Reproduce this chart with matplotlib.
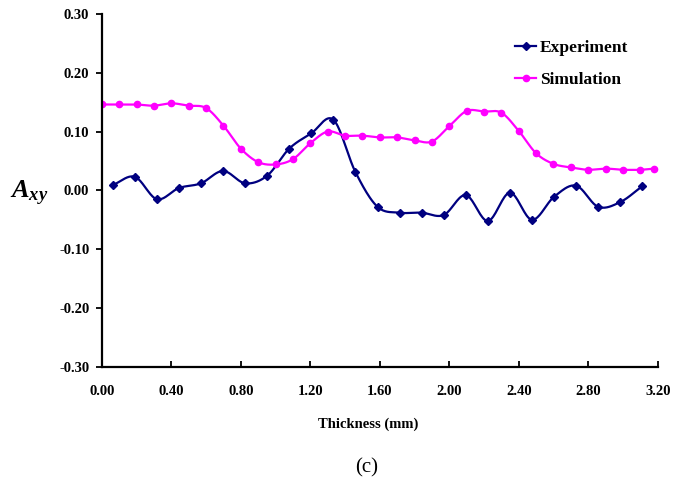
import numpy as np
import matplotlib
matplotlib.use('Agg')
import matplotlib.pyplot as plt
from matplotlib.ticker import FormatStrFormatter

# experiment (25 points) and simulation (33 points)
exp_x = [0.063, 0.190, 0.317, 0.444, 0.571, 0.698, 0.825, 0.952, 1.079, 1.206,
         1.333, 1.460, 1.587, 1.714, 1.841, 1.968, 2.095, 2.222, 2.349, 2.476,
         2.603, 2.730, 2.857, 2.984, 3.111]
exp_y = [0.009, 0.023, -0.015, 0.004, 0.012, 0.033, 0.012, 0.025, 0.071, 0.097,
         0.120, 0.031, -0.028, -0.038, -0.038, -0.042, -0.008, -0.052, -0.004, -0.050,
         -0.011, 0.008, -0.028, -0.020, 0.007]

sim_x = [0.0, 0.1, 0.2, 0.3, 0.4, 0.5, 0.6, 0.7, 0.8, 0.9, 1.0, 1.1, 1.2, 1.3, 1.4,
         1.5, 1.6, 1.7, 1.8, 1.9, 2.0, 2.1, 2.2, 2.3, 2.4, 2.5, 2.6, 2.7, 2.8, 2.9,
         3.0, 3.1, 3.18]
sim_y = [0.146, 0.146, 0.146, 0.144, 0.148, 0.144, 0.140, 0.110, 0.071, 0.048,
         0.044, 0.053, 0.080, 0.100, 0.093, 0.093, 0.090, 0.090, 0.085, 0.083,
         0.109, 0.135, 0.134, 0.132, 0.101, 0.063, 0.045, 0.039, 0.035, 0.037,
         0.035, 0.035, 0.037]

x_ticks = [0.0, 0.4, 0.8, 1.2, 1.6, 2.0, 2.4, 2.8, 3.2]
y_ticks = [-0.3, -0.2, -0.1, 0.0, 0.1, 0.2, 0.3]

EXP_COLOR = '#000080'
SIM_COLOR = '#FF00FF'


def smooth(xs, ys, n=20):
    # Catmull-Rom curve through the points, like Excel's smoothed line
    xs = np.asarray(xs, float)
    ys = np.asarray(ys, float)
    px = np.concatenate([[2 * xs[0] - xs[1]], xs, [2 * xs[-1] - xs[-2]]])
    py = np.concatenate([[2 * ys[0] - ys[1]], ys, [2 * ys[-1] - ys[-2]]])
    t = np.linspace(0, 1, n, endpoint=False)
    out_x, out_y = [], []
    for i in range(1, len(px) - 2):
        for p, out in ((px, out_x), (py, out_y)):
            p0, p1, p2, p3 = p[i - 1], p[i], p[i + 1], p[i + 2]
            out.extend(0.5 * (2 * p1 + (-p0 + p2) * t
                              + (2 * p0 - 5 * p1 + 4 * p2 - p3) * t ** 2
                              + (-p0 + 3 * p1 - 3 * p2 + p3) * t ** 3))
    out_x.append(xs[-1])
    out_y.append(ys[-1])
    return out_x, out_y


plt.rcParams['font.family'] = ['Liberation Serif', 'DejaVu Serif']
plt.rcParams['font.weight'] = 'bold'
plt.rcParams['axes.unicode_minus'] = False
plt.rcParams['mathtext.fontset'] = 'custom'
plt.rcParams['mathtext.it'] = 'Liberation Serif:italic:bold'
plt.rcParams['mathtext.rm'] = 'Liberation Serif:bold'

fig = plt.figure(figsize=(6.88, 4.97), dpi=100)
ax = fig.add_axes([0.148, 0.262, 0.808, 0.710])

sx, sy = smooth(exp_x, exp_y)
ax.plot(sx, sy, color=EXP_COLOR, lw=1.6)
ax.plot(exp_x, exp_y, 'D', color=EXP_COLOR, ms=4)
ax.plot([], [], '-D', color=EXP_COLOR, lw=1.6, ms=4, label='Experiment')

sx, sy = smooth(sim_x, sim_y)
ax.plot(sx, sy, color=SIM_COLOR, lw=1.6)
ax.plot(sim_x, sim_y, 'o', color=SIM_COLOR, ms=4.5)
ax.plot([], [], '-o', color=SIM_COLOR, lw=1.6, ms=4.5, label='Simulation')

ax.set_xlim(0, 3.2)
ax.set_ylim(-0.3, 0.3)
ax.set_xticks(x_ticks)
ax.set_yticks(y_ticks)
ax.xaxis.set_major_formatter(FormatStrFormatter('%.2f'))
ax.yaxis.set_major_formatter(FormatStrFormatter('%.2f'))
ax.tick_params(axis='x', direction='in', length=4, width=1.3, labelsize=10.5, pad=13)
ax.tick_params(axis='y', direction='out', length=4, width=1.3, labelsize=10.5, pad=5)

for side in ['top', 'right']:
    ax.spines[side].set_visible(False)
for side in ['left', 'bottom']:
    ax.spines[side].set_linewidth(1.6)

ax.set_xlabel('Thickness (mm)', fontsize=10.5, fontweight='bold')
ax.xaxis.set_label_coords(0.48, -0.145)
ax.set_ylabel(r'$A_{xy}$', fontsize=19, rotation=0)
ax.yaxis.set_label_coords(-0.13, 0.45)

ax.legend(loc='upper left', bbox_to_anchor=(0.716, 0.97), frameon=False,
          handlelength=1.2, handletextpad=0.2, labelspacing=0.9,
          prop={'family': 'Liberation Serif', 'weight': 'bold', 'size': 12.5})

fig.text(0.533, 0.058, '(c)', ha='center', va='center', fontsize=15, fontweight='normal')

fig.savefig('out.png', dpi=100)
